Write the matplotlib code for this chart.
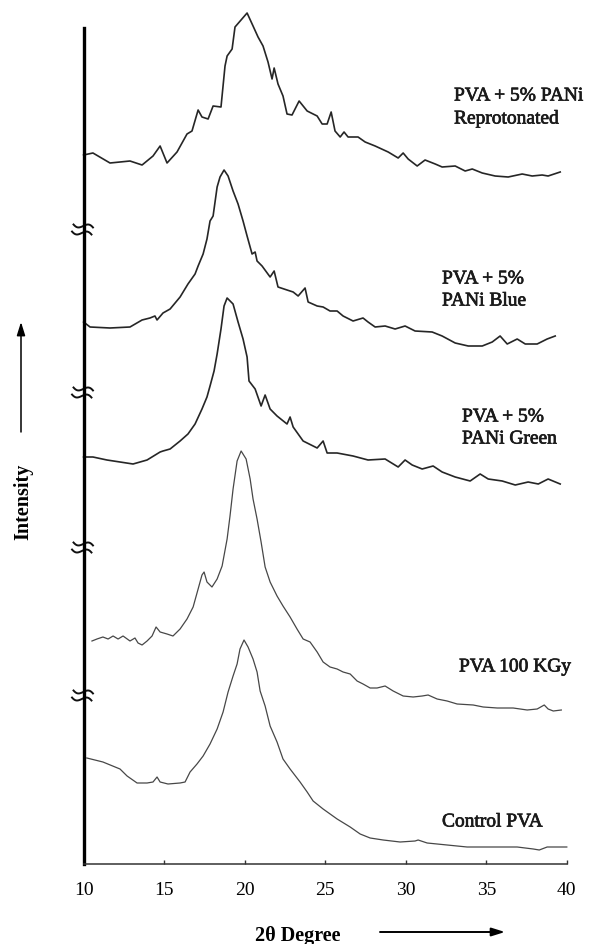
import matplotlib
matplotlib.use("Agg")
import matplotlib.pyplot as plt
import matplotlib.patheffects as pe
from matplotlib.path import Path
import numpy as np

plt.rcParams['font.family'] = ['Liberation Serif', 'DejaVu Serif']

# ---- data: 2theta (deg) and stacked intensity (a.u.) ----
reprot_x = [10.0, 10.58, 11.64, 12.88, 13.63, 14.31, 14.75, 15.18, 15.80, 16.42, 16.73, 17.11,
            17.35, 17.73, 18.04, 18.53, 18.78, 18.91, 19.22, 19.40, 20.15, 20.52, 20.83, 21.14,
            21.45, 21.70, 21.83, 22.07, 22.38, 22.63, 22.94, 23.38, 23.88, 24.50, 24.81, 25.12,
            25.37, 25.61, 25.93, 26.17, 26.42, 27.04, 27.48, 28.10, 28.91, 29.53, 29.84, 30.15,
            30.71, 31.20, 31.83, 32.26, 33.07, 33.69, 34.13, 34.75, 35.55, 36.36, 37.23, 37.85,
            38.47, 38.84, 39.59]
reprot_y = [709, 711, 701, 703, 699, 708, 718, 701, 712, 730, 733, 754,
            747, 745, 758, 757, 798, 808, 815, 837, 851, 838, 827, 818,
            802, 785, 796, 780, 768, 750, 749, 763, 753, 748, 740, 740,
            752, 733, 727, 732, 727, 727, 722, 718, 712, 706, 711, 705,
            698, 704, 700, 697, 698, 693, 695, 691, 688, 687, 690, 688,
            689, 688, 692]

blue_x = [10.0, 10.40, 11.64, 12.88, 13.63, 14.12, 14.43, 14.56, 14.93, 15.37, 15.99, 16.48,
          16.92, 17.11, 17.42, 17.66, 17.85, 18.04, 18.29, 18.47, 18.72, 18.97, 19.28, 19.59,
          19.90, 20.15, 20.46, 20.65, 20.77, 21.08, 21.58, 21.83, 22.07, 22.63, 23.01, 23.32,
          23.75, 23.94, 24.50, 24.87, 25.30, 25.74, 26.11, 26.73, 27.35, 27.66, 28.10, 28.72,
          29.34, 29.96, 30.58, 31.64, 32.26, 33.07, 33.88, 34.75, 35.37, 35.86, 36.30, 36.92,
          37.42, 38.16, 38.78, 39.28]
blue_y = [542, 537, 536, 537, 544, 546, 548, 544, 551, 555, 567, 580,
          590, 598, 610, 625, 643, 648, 677, 687, 694, 688, 673, 660,
          643, 628, 610, 612, 603, 598, 587, 593, 577, 574, 572, 568,
          576, 562, 558, 557, 553, 553, 548, 543, 546, 542, 537, 538,
          535, 538, 533, 532, 528, 521, 518, 518, 522, 528, 520, 525,
          520, 520, 525, 528]

green_x = [10.0, 10.58, 11.45, 12.26, 13.07, 13.94, 14.75, 14.93, 15.37, 15.99, 16.48, 16.92,
           17.35, 17.66, 17.85, 18.10, 18.29, 18.53, 18.72, 18.91, 19.28, 19.59, 19.90, 20.15,
           20.27, 20.65, 21.02, 21.27, 21.58, 22.01, 22.63, 22.82, 23.01, 23.63, 24.50, 24.87,
           25.12, 25.74, 26.73, 27.66, 28.72, 29.53, 29.96, 30.40, 31.02, 31.70, 32.26, 33.07,
           34.00, 34.62, 35.12, 35.99, 36.80, 37.60, 38.23, 38.84, 39.59]
green_y = [407, 407, 404, 402, 400, 404, 412, 413, 415, 423, 430, 440,
           455, 467, 478, 493, 510, 535, 558, 566, 560, 542, 525, 507,
           483, 475, 458, 469, 455, 448, 440, 447, 437, 423, 416, 423,
           411, 411, 408, 404, 405, 397, 404, 399, 395, 398, 392, 387,
           383, 390, 385, 383, 379, 382, 380, 385, 380]

kgy_x = [10.52, 10.83, 11.20, 11.52, 11.83, 12.14, 12.45, 12.88, 13.19, 13.38, 13.63, 13.94,
         14.25, 14.50, 14.75, 15.18, 15.55, 15.99, 16.42, 16.80, 17.11, 17.35, 17.48, 17.66,
         17.97, 18.29, 18.60, 18.91, 19.09, 19.28, 19.53, 19.78, 20.09, 20.34, 20.52, 20.77,
         21.02, 21.27, 21.58, 22.01, 22.38, 22.82, 23.25, 23.63, 24.06, 24.50, 24.87, 25.30,
         25.74, 26.11, 26.55, 26.98, 27.35, 27.79, 28.22, 28.72, 29.22, 29.84, 30.46, 31.02,
         31.39, 31.95, 32.57, 33.19, 34.19, 34.81, 35.68, 36.67, 37.54, 38.16, 38.60, 38.84,
         39.16, 39.66]
kgy_y = [223, 225, 227, 225, 228, 225, 228, 223, 226, 221, 219, 223,
         228, 237, 232, 230, 228, 235, 245, 257, 275, 289, 292, 282,
         277, 285, 298, 325, 348, 375, 403, 413, 405, 385, 365, 345,
         322, 297, 282, 268, 258, 247, 235, 225, 222, 212, 202, 197,
         195, 192, 190, 183, 180, 176, 176, 178, 173, 168, 167, 168,
         169, 165, 163, 160, 159, 157, 156, 156, 154, 155, 159, 155,
         153, 154]

ctrl_x = [10.2, 11.20, 12.26, 12.70, 13.32, 13.94, 14.31, 14.56, 14.75, 15.24, 15.99, 16.30,
          16.61, 17.04, 17.42, 17.85, 18.29, 18.66, 18.97, 19.28, 19.53, 19.71, 19.96, 20.21,
          20.52, 20.77, 20.96, 21.27, 21.58, 22.01, 22.38, 22.82, 23.44, 23.88, 24.25, 24.87,
          25.74, 26.55, 27.17, 27.79, 28.60, 29.65, 30.58, 30.77, 31.33, 32.57, 33.81, 35.24,
          36.92, 37.92, 38.29, 38.78, 40.0]
ctrl_y = [106, 102, 95, 88, 81, 81, 82, 87, 82, 80, 81, 82,
          92, 100, 108, 120, 135, 152, 172, 188, 200, 215, 224, 217,
          205, 192, 173, 158, 138, 122, 105, 95, 82, 72, 63, 55,
          45, 37, 30, 26, 24, 22, 23, 24, 21, 19, 17, 17,
          17, 15, 14, 17, 17]

xticks = [10, 15, 20, 25, 30, 35, 40]
break_levels = [635, 472, 317, 169]

W, H = 593, 945
fig = plt.figure(figsize=(W / 100, H / 100), dpi=100)
ax = fig.add_axes([83.6 / W, (H - 865) / H, 483.2 / W, 860 / H])
ax.set_xlim(10, 40)
ax.set_ylim(0, 860)

dark = dict(color='#262626', lw=1.2, solid_joinstyle='round')
light = dict(color='#474747', lw=0.9, solid_joinstyle='round')
ax.plot(reprot_x, reprot_y, clip_on=False, **dark)
ax.plot(blue_x, blue_y, clip_on=False, **dark)
ax.plot(green_x, green_y, clip_on=False, **dark)
ax.plot(kgy_x, kgy_y, clip_on=False, **light)
ax.plot(ctrl_x, ctrl_y, clip_on=False, **light)

for s in ['top', 'right']:
    ax.spines[s].set_visible(False)
ax.spines['left'].set_bounds(0, 836)
ax.spines['left'].set_linewidth(2.4)
ax.spines['left'].set_color('black')
ax.spines['bottom'].set_linewidth(1.1)
ax.spines['bottom'].set_color('#333333')
ax.set_yticks([])
ax.set_xticks(xticks)
ax.set_xticklabels([str(t) for t in xticks])
ax.tick_params(axis='x', direction='in', length=3, width=1, color='#333333',
               labelsize=14, pad=12)

# axis break marks: two stacked wavy strokes (like a rotated "≈")
t = np.linspace(-1, 1, 25)
verts, codes = [], []
ang = np.deg2rad(-12)
for off in (0.34, -0.34):
    xs = t
    ys = 0.24 * np.sin(np.pi * t) + off
    xr = xs * np.cos(ang) - ys * np.sin(ang)
    yr = xs * np.sin(ang) + ys * np.cos(ang)
    for i, (a, b) in enumerate(zip(xr, yr)):
        verts.append((a, b))
        codes.append(Path.MOVETO if i == 0 else Path.LINETO)
brk = Path(verts, codes)
ax.plot([9.9] * len(break_levels), break_levels, ls='none', marker=brk, markersize=16,
        markerfacecolor='none', markeredgecolor='#111111', markeredgewidth=1.4,
        clip_on=False)

def ftext(px, py, s, **kw):
    fig.text(px / W, 1 - py / H, s, **kw)

lab = dict(fontsize=14, ha='left', va='center', color='#1a1a1a',
           path_effects=[pe.withStroke(linewidth=0.5, foreground='#1a1a1a')])
ftext(454, 97, 'PVA + 5% PANi', **lab)
ftext(454, 120, 'Reprotonated', **lab)
ftext(442, 280, 'PVA + 5%', **lab)
ftext(442, 302, 'PANi Blue', **lab)
ftext(462, 418, 'PVA + 5%', **lab)
ftext(462, 440, 'PANi Green', **lab)
ftext(459, 668, 'PVA 100 KGy', **lab)
ftext(442, 823, 'Control PVA', **lab)

ftext(298, 936, '2θ Degree', fontsize=14.5, fontweight='bold', ha='center', va='center')
ftext(23, 502, 'Intensity', fontsize=14.5, fontweight='bold', ha='center', va='center',
      rotation=90)

arrow = dict(arrowstyle='-|>,head_length=0.8,head_width=0.25', color='black', lw=1.4,
             shrinkA=0, shrinkB=0)
ax.annotate('', xy=(505 / W, 1 - 933 / H), xytext=(380 / W, 1 - 933 / H),
            xycoords='figure fraction', textcoords='figure fraction', arrowprops=arrow)
ax.annotate('', xy=(21 / W, 1 - 323 / H), xytext=(21 / W, 1 - 433 / H),
            xycoords='figure fraction', textcoords='figure fraction',
            arrowprops=dict(arrow, lw=1.1))

fig.savefig('out.png', dpi=100)
